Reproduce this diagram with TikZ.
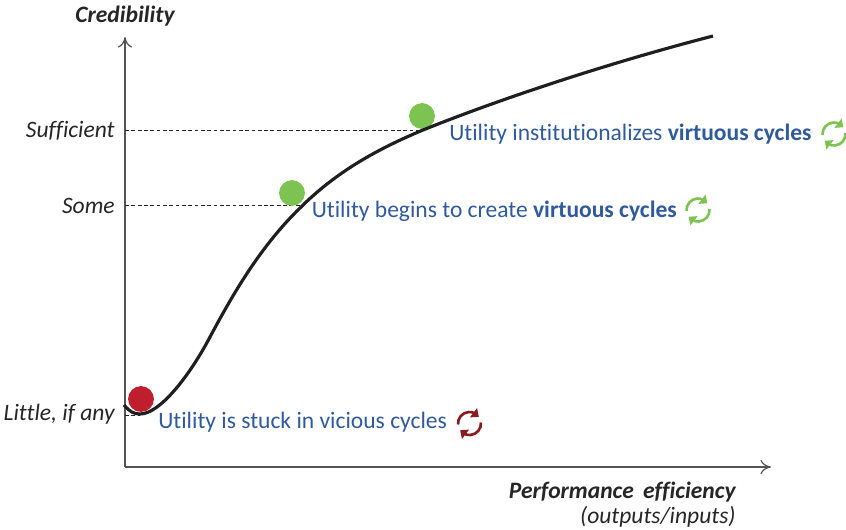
\documentclass[tikz,border=0pt]{standalone}
\usepackage{fontspec}
\setmainfont[Ligatures=NoCommon]{Carlito}
\usetikzlibrary{arrows.meta,bending}
\definecolor{textblue}{HTML}{2F5A9E}
\definecolor{dotgreen}{HTML}{7DC352}
\definecolor{dotred}{HTML}{BE1E2D}
\definecolor{cyclered}{HTML}{8B1A1E}
\definecolor{axisgray}{HTML}{555555}
\definecolor{labelblack}{HTML}{262626}
\tikzset{
	cycleicon/.pic={
		\draw[line width=1.5pt, -{Triangle[length=3.8pt, width=6.5pt, flex=1]}] (-185:11.5) arc (-185:-36:11.5);
		\draw[line width=1.5pt, -{Triangle[length=3.8pt, width=6.5pt, flex=1]}] (-5:11.5) arc (-5:144:11.5);
	}
}
\begin{document}
\begin{tikzpicture}[x=0.02cm, y=-0.02cm,
	axis/.style={draw=axisgray, line width=0.7pt, -{To[length=6pt, width=8pt]}},
	guide/.style={draw=labelblack, line width=0.4pt, dash pattern=on 2.2pt off 1.4pt},
	level/.style={anchor=east, font=\fontsize{13.4}{16}\selectfont\itshape, text=labelblack, inner sep=0pt},
	axislabel/.style={font=\fontsize{13.4}{16}\selectfont\bfseries\itshape, text=labelblack, inner sep=0pt},
	note/.style={anchor=west, font=\fontsize{13.4}{16}\selectfont, text=textblue, inner sep=0pt},
	dot/.style={circle, minimum size=14.7pt, inner sep=0pt}]
	\useasboundingbox (0,0) rectangle (846,529);
	% Axes
	\coordinate (Origin) at (125,467);
	\coordinate (Top) at (125,37);
	\coordinate (Right) at (771,467);
	\draw[axis] (Origin) -- (Top);
	\draw[axis] (Origin) -- (Right);
	\node[axislabel] (Credibility) at (125,16) {Credibility};
	\node[axislabel, anchor=east] (Performance) at (736,492) {Performance\, efficiency};
	\node[level] (Outputs) at (736,517) {(outputs/inputs)};
	% Levels
	\node[level] (Sufficient) at (115,130.5) {Sufficient};
	\node[level] (Some) at (115,206) {Some};
	\node[level] (Little) at (115,414) {Little, if any};
	% Guides
	\coordinate (HighEnd) at (423,130);
	\coordinate (MidEnd) at (300,205);
	\coordinate (LowEnd) at (140,415);
	\coordinate (HighStart) at (125,130);
	\coordinate (MidStart) at (125,205);
	\coordinate (LowStart) at (125,415);
	\draw[guide] (HighStart) -- (HighEnd);
	\draw[guide] (MidStart) -- (MidEnd);
	\draw[guide] (LowStart) -- (LowEnd);
	% Dots
	\node[dot, fill=dotgreen] (High) at (422,116) {};
	\node[dot, fill=dotgreen] (Mid) at (292,193) {};
	\node[dot, fill=dotred] (Low) at (141,399) {};
	% Curve
	\draw[line width=1.8pt, draw=black!88] (124,405) .. controls (130,412) and (134,414) .. (140,414)
		.. controls (160,414) and (190,375) .. (210,337)
		.. controls (235,290) and (262,245) .. (300,208)
		.. controls (335,173) and (375,150) .. (423,130)
		.. controls (510,95) and (620,60) .. (713,36);
	% Notes
	\node[note] (NoteHigh) at (449,134) {Utility institutionalizes \textbf{virtuous cycles}};
	\node[note] (NoteMid) at (311.5,211) {Utility begins to create \textbf{virtuous cycles}};
	\node[note] (NoteLow) at (158,422) {Utility is stuck in vicious cycles};
	% Icons
	\pic[color=dotgreen] at (834,134) {cycleicon};
	\pic[color=dotgreen] at (698,210) {cycleicon};
	\pic[color=cyclered] at (469.5,423.5) {cycleicon};
\end{tikzpicture}
\end{document}
